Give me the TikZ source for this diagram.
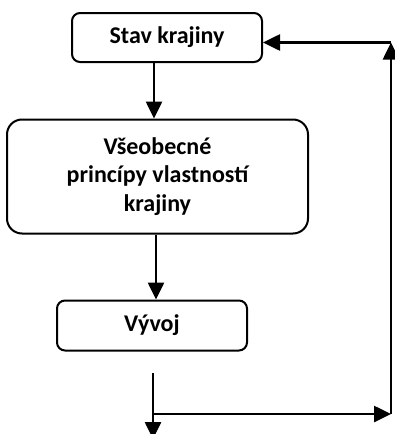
\documentclass[tikz,border=0pt]{standalone}
\usepackage{fontspec}
\setmainfont{Carlito}
\usetikzlibrary{arrows.meta}
\begin{document}
\begin{tikzpicture}[x=1pt,y=-1pt,
  box/.style={draw, line width=2pt, rounded corners=8pt, inner sep=0pt,
    align=center, font=\fontsize{24}{28.5}\selectfont\bfseries},
  arr/.style={line width=2.6pt, -{Triangle[length=17pt,width=16pt]}},
  link/.style={line width=2.6pt}]
\useasboundingbox (0,0) rectangle (394,434);

% boxes
\node[box, minimum width=190pt, minimum height=49pt] (state) at (167,37.5) {Stav krajiny};
\node[box, minimum width=301pt, minimum height=114pt, rounded corners=15pt] (rules) at (157.5,176.5)
  {Všeobecné\\princípy vlastností\\krajiny};
\node[box, minimum width=190pt, minimum height=50pt] (dev) at (152,325.5) {Vývoj};

% guide coordinates for the vertical flow
\coordinate (x1) at (154,0);
\coordinate (x2) at (156,0);
\coordinate (out) at (153,373);
\coordinate (down) at (153,439);
\coordinate (corner) at (391,414);
\coordinate (top) at (391,42.5);

% main flow
\draw[arr] (state.south -| x1) -- (rules.north -| x1);
\draw[arr] (rules.south -| x2) -- (dev.north -| x2);
\draw[arr] (out) -- (down);

% feedback loop
\draw[arr] (out |- corner) -- (corner);
\draw[arr] (corner) -- (top);
\draw[arr] (top) -- (state.east |- top);
\end{tikzpicture}
\end{document}
